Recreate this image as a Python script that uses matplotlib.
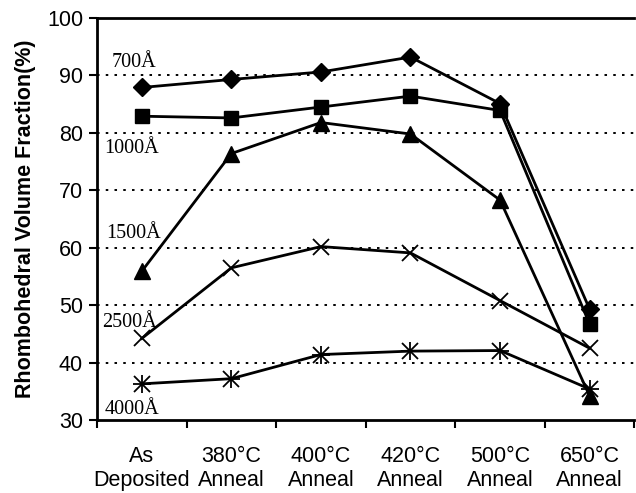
import matplotlib
matplotlib.use("Agg")
import matplotlib.pyplot as plt
import numpy as np

categories = ["As\nDeposited", "380°C\nAnneal", "400°C\nAnneal", "420°C\nAnneal", "500°C\nAnneal", "650°C\nAnneal"]
s700 = [87.9, 89.3, 90.6, 93.2, 85.1, 49.3]
s1000 = [82.9, 82.6, 84.5, 86.4, 83.9, 46.7]
s1500 = [55.9, 76.4, 81.8, 79.8, 68.3, 34.2]
s2500 = [44.2, 56.5, 60.2, 59.1, 50.8, 42.5]
s4000 = [36.3, 37.2, 41.4, 42.0, 42.1, 35.4]
labels = ["700Å", "1000Å", "1500Å", "2500Å", "4000Å"]
yticks = [30, 40, 50, 60, 70, 80, 90, 100]

fig = plt.figure(figsize=(6.36, 4.93), dpi=100)
ax = fig.add_axes([0.1525, 0.148, 0.845, 0.8155])
x = np.arange(len(categories))

for y in [40, 50, 60, 70, 80, 90]:
    ax.axhline(y, color="black", lw=1.4, ls=(0, (1.3, 3.2)), zorder=1)

series = [(s700, "D", 9.5), (s1000, "s", 10.5), (s1500, "^", 11.5),
          (s2500, "x", 11), (s4000, "x", 11)]
for i, (vals, m, ms) in enumerate(series):
    ax.plot(x, vals, color="black", lw=2, marker=m, ms=ms, mew=1.3 if m == "x" else 1, zorder=3)
    if i == 4:
        ax.plot(x, vals, ls="none", marker="+", ms=12.5, mew=1.3, color="black", zorder=3)

label_pos = [(-0.335, 92.3), (-0.42, 77.3), (-0.40, 62.5), (-0.445, 47.0), (-0.41, 31.8)]
for lab, (lx, ly) in zip(labels, label_pos):
    ax.text(lx, ly, lab, family="Liberation Serif", fontsize=14.5, ha="left", va="center", zorder=4)

ax.set_xlim(-0.5, 5.5)
ax.set_ylim(30, 100)
ax.set_yticks(yticks)
ax.set_yticklabels([str(v) for v in yticks], family="Liberation Sans", fontsize=15.5)
ax.set_xticks(x)
ax.set_xticklabels(categories, family="Liberation Sans", fontsize=15.5, linespacing=1.15)
ax.set_xticks(np.arange(-0.5, 6.0, 1.0), minor=True)
ax.tick_params(axis="x", which="major", length=0, pad=19)
ax.tick_params(axis="x", which="minor", length=6, width=1.5, direction="out")
ax.tick_params(axis="y", length=6, width=1.5, direction="out", pad=4)
for s in ["left", "bottom", "top"]:
    ax.spines[s].set_linewidth(2)
ax.spines["right"].set_visible(False)
ax.set_ylabel("Rhombohedral Volume Fraction(%)", family="Liberation Sans", fontsize=15.5,
              fontweight="bold", labelpad=8)
fig.savefig("out.png", dpi=100)
